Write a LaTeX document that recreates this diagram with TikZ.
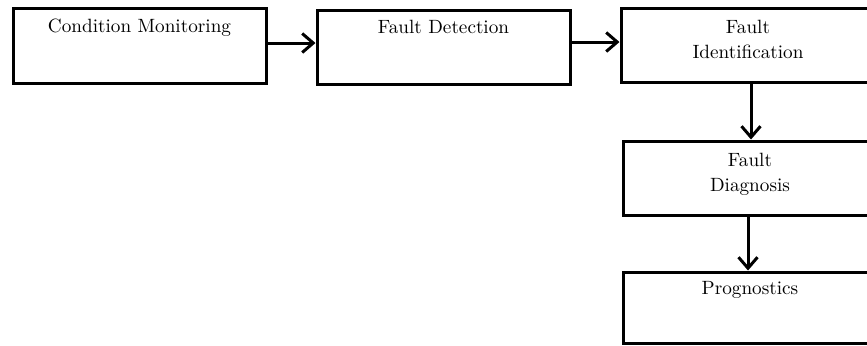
\documentclass[tikz,border=0pt]{standalone}
\usetikzlibrary{arrows.meta}
\begin{document}
\begin{tikzpicture}[x=0.5pt,y=-0.5pt,
  blk/.style={draw, line width=1.5pt, minimum width=126.5pt, minimum height=37pt, inner sep=0pt},
  lbl/.style={font=\fontsize{9.6}{12.5}\selectfont, align=center, inner sep=0pt, anchor=base},
  conn/.style={line width=1.5pt, -{Straight Barb[length=5.5pt,width=9.5pt]}}]
\useasboundingbox (0,0) rectangle (867,345);
\clip (0,0) rectangle (867,345);
\node[blk, minimum height=37.5pt] (b1) at (139.5,45.5) {};
\node[blk] (b2) at (443.5,47) {};
\node[blk, minimum width=127pt] (b3) at (748,45) {};
\node[blk] (b4) at (750,178) {};
\node[blk, minimum height=35.5pt] (b5) at (750,307.5) {};
\node[lbl] (t1) at ([yshift=-13pt]b1.north) {Condition Monitoring};
\node[lbl] (t2) at ([yshift=-12.5pt]b2.north) {Fault Detection};
\node[lbl] (t3) at ([yshift=-26pt]b3.north) {Fault\\Identification};
\node[lbl] (t4) at ([yshift=-26pt]b4.north) {Fault\\Diagnosis};
\node[lbl] (t5) at ([yshift=-12pt]b5.north) {Prognostics};
\draw[conn] ([yshift=1.25pt]b1.east) -- ([yshift=1.25pt]b1.east -| b2.west);
\draw[conn] ([yshift=2.5pt]b2.east) -- ([yshift=2.5pt]b2.east -| b3.west);
\draw[conn] ([xshift=1.5pt]b3.south) -- ([xshift=1.5pt]b3.south |- b4.north);
\draw[conn] ([xshift=-1pt]b4.south) -- ([xshift=-1pt]b4.south |- b5.north);
\end{tikzpicture}
\end{document}
